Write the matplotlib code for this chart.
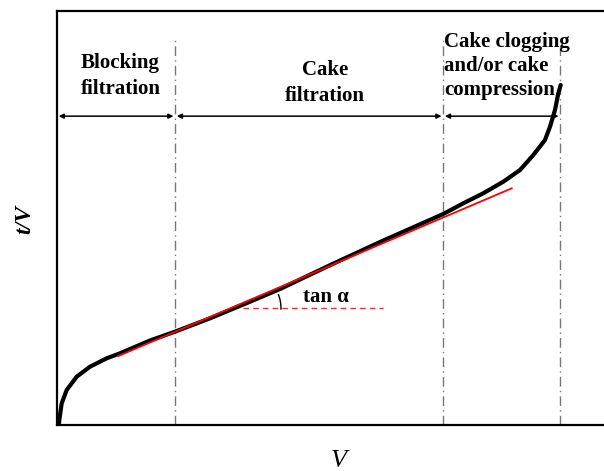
import matplotlib
matplotlib.use("Agg")
import matplotlib.pyplot as plt
from matplotlib.patches import Arc

# ---- data (arbitrary units) ----
curve_V = [0.37, 0.42, 0.86, 1.77, 3.60, 6.03, 9.09, 11.52, 17.00, 21.57, 27.97, 35.28,
           40.77, 49.91, 59.05, 70.62, 74.28, 77.93, 81.59, 84.64, 87.08, 89.21, 90.13,
           91.04, 91.65, 92.08]
curve_tV = [0.48, 1.21, 5.24, 8.45, 11.67, 14.08, 16.11, 17.31, 20.41, 22.54, 25.77, 29.78,
            32.85, 38.60, 44.20, 50.97, 53.55, 55.97, 58.77, 61.59, 65.22, 68.84, 72.05,
            76.09, 80.12, 82.13]
fit_V = [11.21, 83.13]
fit_tV = [16.67, 57.17]
ref_V = [34.0, 59.6]
ref_tV = [28.2, 28.2]
bounds_V = [21.6, 70.6, 92.0]
region_labels = ["Blocking\nfiltration", "Cake\nfiltration", "Cake clogging\nand/or cake\ncompression"]

plt.rcParams['font.family'] = ['Liberation Serif', 'DejaVu Serif']

fig = plt.figure(figsize=(6.04, 4.71), dpi=100)
ax = fig.add_axes([57/604, 46/471, 547/604, 414/471])
ax.set_xlim(0, 100)
ax.set_ylim(0, 100)
ax.set_xticks([])
ax.set_yticks([])
ax.spines['right'].set_visible(False)
for s in ['left', 'top', 'bottom']:
    ax.spines[s].set_linewidth(1.6)

# vertical boundaries
for b in bounds_V:
    ax.plot([b, b], [0, 93.0], color='#777777', lw=1.0, ls=(0, (7, 3, 1, 3)))

# arrows between regions
edges = [0] + bounds_V
for a, b in zip(edges[:-1], edges[1:]):
    ax.annotate('', xy=(a + 0.3, 74.6), xytext=(b - 0.3, 74.6),
                arrowprops=dict(arrowstyle='<|-|>', lw=1.1, color='black',
                                mutation_scale=7, shrinkA=0, shrinkB=0))

# region labels
ax.text(11.6, 84.2, region_labels[0], ha='center', va='center', fontsize=15,
        fontweight='bold', linespacing=1.4)
ax.text(49.0, 82.6, region_labels[1], ha='center', va='center', fontsize=15,
        fontweight='bold', linespacing=1.45)
ax.text(70.8, 86.7, region_labels[2], ha='left', va='center', fontsize=15,
        fontweight='bold', linespacing=1.25)

# curve and fit
ax.plot(curve_V, curve_tV, color='black', lw=3.0, solid_capstyle='round',
        solid_joinstyle='round', zorder=3)
ax.plot(fit_V, fit_tV, color='red', lw=1.3, zorder=4)
ax.plot(ref_V, ref_tV, color='#e03535', lw=1.0, ls=(0, (4, 3)), zorder=2)

# angle arc
ax.add_patch(Arc((ref_V[0], ref_tV[0]), 2*38/5.47, 2*38/4.14, theta1=-3, theta2=28,
                 color='black', lw=1.0))
ax.text(45.0, 30.8, 'tan α', fontsize=15, fontweight='bold', ha='left', va='center')

fig.text(25/604, 1 - 219/471, 't/V', rotation=90, fontsize=17, fontstyle='italic',
         fontweight='bold', ha='center', va='center')
fig.text(339/604, 1 - 461/471, 'V', fontsize=19, fontstyle='italic',
         ha='center', va='center')

fig.savefig('out.png', dpi=100)
